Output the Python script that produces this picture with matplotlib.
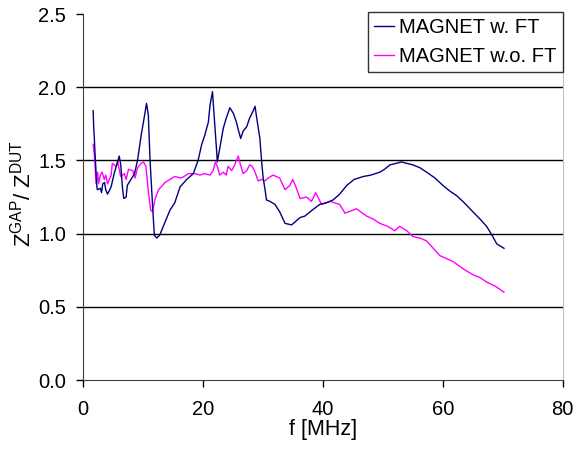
import numpy as np
import matplotlib
matplotlib.use("Agg")
import matplotlib.pyplot as plt

plt.rcParams['font.family'] = ['Liberation Sans', 'DejaVu Sans']
plt.rcParams['mathtext.default'] = 'regular'

# MAGNET w. FT
f_ft = [1.7, 1.8, 1.9, 2.0, 2.3, 2.4, 2.9, 3.1, 3.3, 3.6, 3.8, 4.1, 4.7, 5.2, 6.05, 6.3,
        6.6, 6.8, 7.2, 7.4, 8.0, 8.6, 9.1, 9.7, 10.2, 10.6, 10.9, 11.2, 11.6, 11.9, 12.3,
        12.8, 13.4, 14.5, 15.3, 16.2, 17.3, 18.4, 19.2, 19.8, 20.3, 20.9, 21.2, 21.6, 21.9,
        22.3, 22.4, 22.8, 23.4, 23.9, 24.5, 25.1, 25.6, 25.9, 26.3, 26.7, 27.3, 27.8, 28.4,
        28.7, 28.9, 29.5, 29.8, 30.05, 30.4, 30.6, 31.2, 32.0, 32.8, 33.7, 34.8, 36.2, 37.0,
        38.2, 39.5, 40.5, 41.7, 42.8, 44.0, 45.2, 46.7, 48.0, 49.5, 50.3, 51.2, 52.2, 53.1,
        54.0, 55.0, 56.2, 57.3, 58.7, 60.0, 61.2, 62.3, 63.6, 65.0, 66.2, 67.3, 68.2, 69.0,
        70.2]
z_ft = [1.84, 1.72, 1.65, 1.56, 1.33, 1.30, 1.31, 1.28, 1.34, 1.35, 1.30, 1.27, 1.32, 1.41,
        1.53, 1.47, 1.31, 1.24, 1.25, 1.33, 1.37, 1.41, 1.50, 1.67, 1.79, 1.89, 1.81, 1.49,
        1.20, 0.99, 0.97, 0.99, 1.05, 1.16, 1.21, 1.32, 1.37, 1.41, 1.50, 1.61, 1.67, 1.76,
        1.88, 1.97, 1.79, 1.56, 1.49, 1.58, 1.72, 1.79, 1.86, 1.82, 1.76, 1.71, 1.65, 1.70,
        1.73, 1.79, 1.84, 1.87, 1.81, 1.65, 1.49, 1.38, 1.29, 1.23, 1.22, 1.20, 1.15, 1.07,
        1.06, 1.11, 1.12, 1.16, 1.20, 1.21, 1.23, 1.27, 1.33, 1.37, 1.39, 1.40, 1.42, 1.44,
        1.47, 1.48, 1.49, 1.48, 1.47, 1.45, 1.42, 1.38, 1.33, 1.29, 1.26, 1.21, 1.15, 1.10,
        1.05, 0.99, 0.93, 0.90]

# MAGNET w.o. FT
f_noft = [1.7, 1.9, 2.2, 2.45, 2.6, 2.9, 3.2, 3.55, 3.8, 4.1, 4.7, 4.9, 5.5, 5.8, 6.05, 6.3,
          6.9, 7.2, 7.6, 8.3, 8.7, 9.1, 9.7, 10.1, 10.5, 10.9, 11.3, 11.6, 12.05, 12.6, 13.7,
          14.5, 15.3, 16.4, 17.6, 18.7, 19.5, 20.3, 21.2, 21.7, 22.1, 22.4, 22.8, 23.4, 23.9,
          24.2, 24.8, 25.3, 25.9, 26.2, 26.7, 27.3, 27.8, 28.2, 28.7, 29.2, 29.8, 30.3, 30.9,
          31.7, 32.8, 33.7, 34.5, 35.0, 35.6, 36.2, 37.3, 38.1, 38.8, 39.8, 41.2, 42.8, 43.7,
          45.6, 47.3, 48.4, 49.5, 50.8, 52.0, 52.8, 54.0, 55.0, 56.2, 57.3, 58.4, 59.5, 60.6,
          61.7, 63.4, 65.0, 66.2, 67.3, 68.8, 70.2]
z_noft = [1.61, 1.54, 1.34, 1.42, 1.34, 1.40, 1.42, 1.37, 1.40, 1.34, 1.40, 1.48, 1.46, 1.49,
          1.44, 1.39, 1.41, 1.37, 1.44, 1.43, 1.38, 1.45, 1.48, 1.49, 1.46, 1.29, 1.16, 1.15,
          1.24, 1.30, 1.35, 1.37, 1.39, 1.38, 1.41, 1.41, 1.40, 1.41, 1.40, 1.43, 1.49, 1.46,
          1.40, 1.42, 1.40, 1.46, 1.43, 1.47, 1.53, 1.48, 1.41, 1.43, 1.47, 1.46, 1.42, 1.36,
          1.37, 1.36, 1.38, 1.40, 1.38, 1.30, 1.33, 1.37, 1.31, 1.24, 1.25, 1.22, 1.28, 1.20,
          1.22, 1.20, 1.14, 1.17, 1.12, 1.10, 1.07, 1.05, 1.02, 1.05, 1.02, 0.98, 0.97, 0.95,
          0.90, 0.85, 0.83, 0.81, 0.76, 0.72, 0.70, 0.67, 0.64, 0.60]

fig = plt.figure(figsize=(5.76, 4.53), dpi=100)
ax = fig.add_axes([0.144, 0.161, 0.833, 0.808])

for yg in [0.5, 1.0, 1.5, 2.0]:
    ax.axhline(yg, color='black', lw=1.0, zorder=1)

ax.plot(f_ft, z_ft, color='#000080', lw=1.0, label='MAGNET w. FT', zorder=3)
ax.plot(f_noft, z_noft, color='#FF00FF', lw=1.0, label='MAGNET w.o. FT', zorder=2)

ax.set_xlim(0, 80)
ax.set_ylim(0, 2.5)
ax.set_xticks([0, 20, 40, 60, 80])
ax.set_yticks([0.0, 0.5, 1.0, 1.5, 2.0, 2.5])
ax.set_yticklabels(['0.0', '0.5', '1.0', '1.5', '2.0', '2.5'])
ax.tick_params(direction='out', length=5, width=1, labelsize=14.5, colors='black')
ax.tick_params(axis='x', pad=9)
ax.tick_params(axis='y', pad=7)
ax.spines['top'].set_visible(False)
ax.spines['right'].set_color('#c0c0c0')
ax.spines['left'].set_color('#404040')
ax.spines['bottom'].set_color('#404040')

ax.set_xlabel('f [MHz]', fontsize=15.5, labelpad=0)
ax.set_ylabel('Z$^{GAP}$/ Z$^{DUT}$', fontsize=16)
ax.yaxis.set_label_coords(-0.098, 0.51)

leg = ax.legend(loc='upper right', bbox_to_anchor=(1.0, 1.006), fontsize=14.5,
                frameon=True, fancybox=False, shadow=False, borderaxespad=0,
                handlelength=1.0, handletextpad=0.25, labelspacing=0.5,
                borderpad=0.3, handleheight=0.7)
leg.get_frame().set_edgecolor('black')
leg.get_frame().set_linewidth(1.0)

fig.savefig('out.png', dpi=100)
